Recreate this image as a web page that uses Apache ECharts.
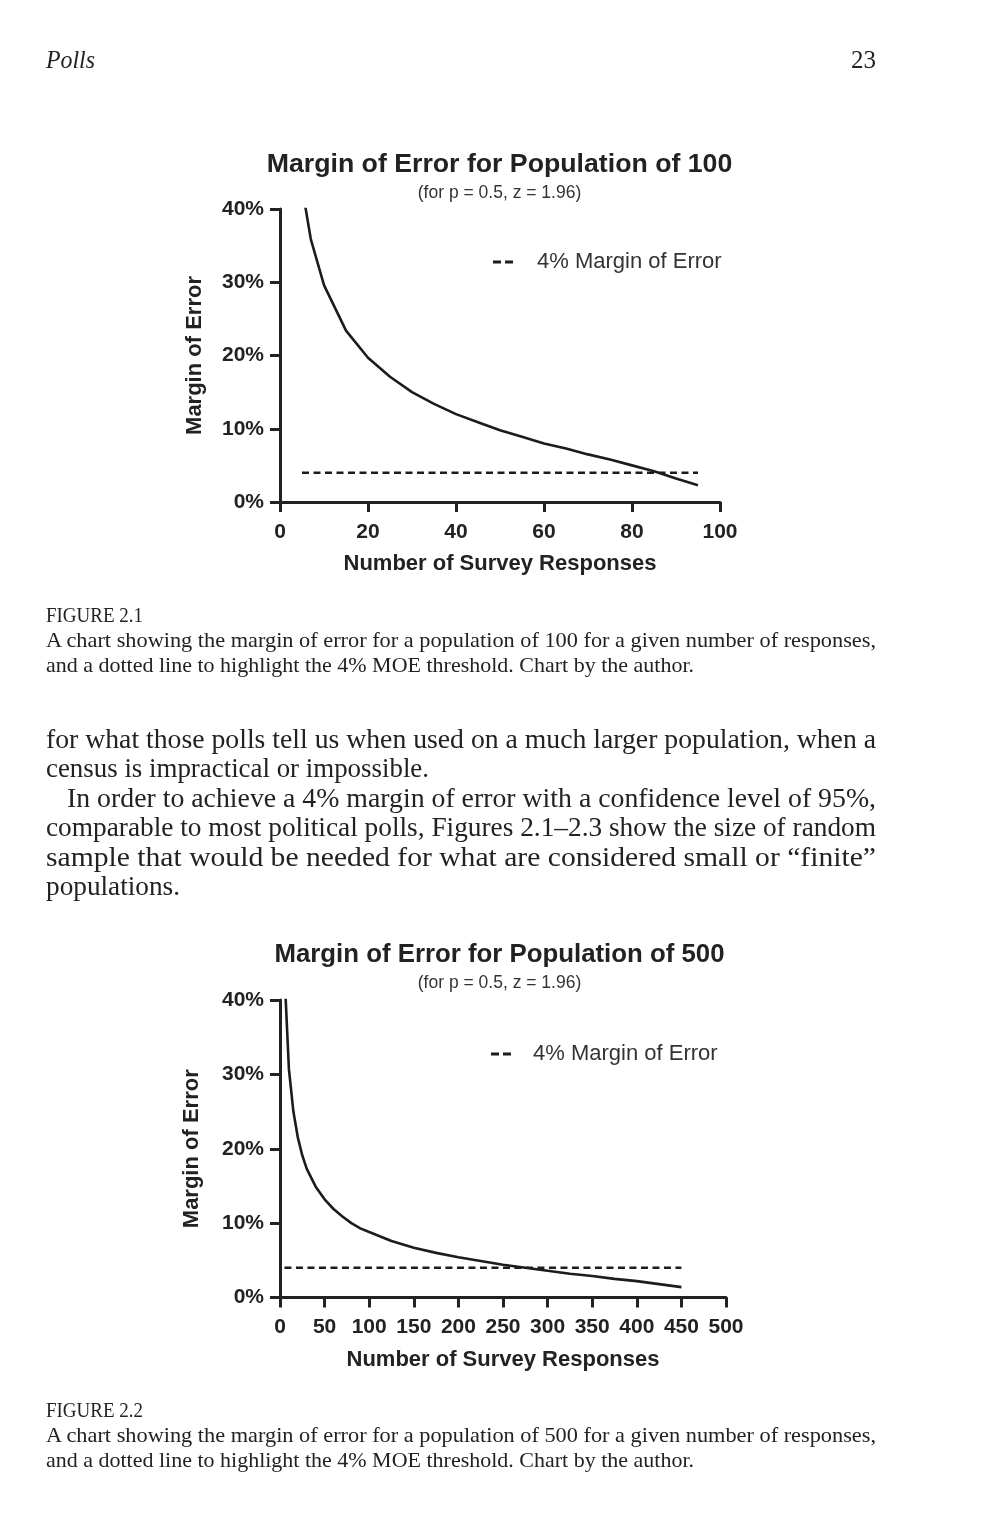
<!DOCTYPE html>
<html>
<head>
<meta charset="utf-8">
<script src="https://cdn.jsdelivr.net/npm/echarts@6/dist/echarts.min.js"></script>
<style>
  html, body { margin:0; padding:0; background:#fff; }
  #page { position:relative; width:999px; height:1523px; overflow:hidden; }
  #chart { position:absolute; left:0; top:0; width:999px; height:1523px; }
  .t { position:absolute; font-family:'Liberation Serif','Times New Roman',serif; color:#222; white-space:nowrap; }
  .t span { display:inline-block; transform-origin:0 50%; }
  .body { font-size:27px; line-height:30px; height:30px; }
  .cap { font-size:21px; line-height:24px; height:24px; }
</style>
</head>
<body>
<div id="page">
  <div id="chart"></div>

  <div class="t fit" data-w="49" style="left:46px;top:45px;font-size:26px;line-height:30px;font-style:italic;"><span>Polls</span></div>
  <div class="t fit" data-w="25" style="left:851px;top:45px;font-size:26px;line-height:30px;"><span>23</span></div>

  <div class="t cap fit" data-w="97" style="left:46px;top:603px;"><span>FIGURE 2.1</span></div>
  <div class="t cap fit" data-w="830" style="left:46px;top:628px;"><span>A chart showing the margin of error for a population of 100 for a given number of responses,</span></div>
  <div class="t cap fit" data-w="648" style="left:46px;top:653px;"><span>and a dotted line to highlight the 4% MOE threshold. Chart by the author.</span></div>

  <div class="t body fit" data-w="830" style="left:46px;top:724px;"><span>for what those polls tell us when used on a much larger population, when a</span></div>
  <div class="t body fit" data-w="383" style="left:46px;top:753px;"><span>census is impractical or impossible.</span></div>
  <div class="t body fit" data-w="809" style="left:67px;top:783px;"><span>In order to achieve a 4% margin of error with a confidence level of 95%,</span></div>
  <div class="t body fit" data-w="830" style="left:46px;top:812px;"><span>comparable to most political polls, Figures 2.1–2.3 show the size of random</span></div>
  <div class="t body fit" data-w="830" style="left:46px;top:842px;"><span>sample that would be needed for what are considered small or “finite”</span></div>
  <div class="t body fit" data-w="134" style="left:46px;top:871px;"><span>populations.</span></div>

  <div class="t cap fit" data-w="97" style="left:46px;top:1398px;"><span>FIGURE 2.2</span></div>
  <div class="t cap fit" data-w="830" style="left:46px;top:1423px;"><span>A chart showing the margin of error for a population of 500 for a given number of responses,</span></div>
  <div class="t cap fit" data-w="648" style="left:46px;top:1448px;"><span>and a dotted line to highlight the 4% MOE threshold. Chart by the author.</span></div>
</div>

<script>
// ---- Data ----
const pop100N   = [5, 7, 10, 15, 20, 25, 30, 35, 40, 45, 50, 55, 60, 65, 70, 75, 80, 85, 90, 95];
const pop100Moe = [43, 35.9, 29.6, 23.4, 19.7, 17.1, 15.0, 13.4, 12.0, 10.9, 9.8, 8.9, 8.0, 7.3, 6.5, 5.8, 5.0, 4.2, 3.2, 2.3];
const pop500N   = [5, 10, 15, 20, 25, 30, 40, 50, 60, 70, 80, 90, 100, 125, 150, 175, 200, 225, 250, 275, 300, 325, 350, 375, 400, 425, 450];
const pop500Moe = [43.7, 30.7, 25.0, 21.5, 19.1, 17.3, 14.9, 13.2, 11.9, 10.9, 10.0, 9.3, 8.8, 7.6, 6.7, 6.0, 5.4, 4.9, 4.4, 4.0, 3.6, 3.2, 2.9, 2.5, 2.2, 1.8, 1.4];
const threshold100N = [5, 95];
const threshold500N = [5, 450];
const thresholdMoe  = [4, 4];
const yTicks = [0, 10, 20, 30, 40];
const titles = ['Margin of Error for Population of 100', 'Margin of Error for Population of 500'];
const subtitle = '(for p = 0.5, z = 1.96)';
const legendName = '4% Margin of Error';
const xName = 'Number of Survey Responses';
const yName = 'Margin of Error';

// fit each text line of the page to the width it has in the reference
document.querySelectorAll('.fit').forEach(el => {
  const s = el.firstElementChild;
  const w = s.getBoundingClientRect().width;
  const target = +el.dataset.w;
  if (w > 0) s.style.transform = 'scaleX(' + (target / w) + ')';
});

const zip = (xs, ys) => xs.map((x, i) => [x, ys[i]]);

const INK = '#222';
const SANS = "'Liberation Sans', Arial, Helvetica, sans-serif";

function xAxis(gridIndex, max, interval, labelMargin) {
  return {
    type: 'value', gridIndex, min: 0, max, interval,
    name: xName, nameLocation: 'middle', nameGap: 51,
    nameTextStyle: { color: INK, fontSize: 22, fontWeight: 'bold', fontFamily: SANS },
    axisLine: { show: true, onZero: false, lineStyle: { color: INK, width: 3 } },
    axisTick: { show: true, length: 10, lineStyle: { color: INK, width: 3 } },
    axisLabel: { color: INK, fontSize: 21, fontWeight: 'bold', fontFamily: SANS, margin: labelMargin },
    splitLine: { show: false }
  };
}
function yAxis(gridIndex, nameGap) {
  return {
    type: 'value', gridIndex, min: yTicks[0], max: yTicks[yTicks.length - 1], interval: 10,
    name: yName, nameLocation: 'middle', nameGap,
    nameTextStyle: { color: INK, fontSize: 22, fontWeight: 'bold', fontFamily: SANS },
    axisLine: { show: true, onZero: false, lineStyle: { color: INK, width: 3 } },
    axisTick: { show: true, length: 10, lineStyle: { color: INK, width: 3 } },
    axisLabel: { color: INK, fontSize: 21, fontWeight: 'bold', fontFamily: SANS, margin: 16, formatter: '{value}%' },
    splitLine: { show: false }
  };
}
function curve(idx, data) {
  return {
    type: 'line', name: 'MOE', xAxisIndex: idx, yAxisIndex: idx, data,
    symbol: 'none', smooth: false, clip: true, silent: true,
    lineStyle: { color: '#1c1c1c', width: 2.6 }
  };
}
function dashed(idx, data) {
  return {
    type: 'line', name: legendName, xAxisIndex: idx, yAxisIndex: idx, data,
    symbol: 'none', silent: true,
    lineStyle: { color: '#1c1c1c', width: 2.6, type: [7, 4.5] },
    itemStyle: { color: '#1c1c1c' }
  };
}
function legend(left, top, pad) {
  return {
    left, top, padding: 0, selectedMode: false,
    data: [{ name: legendName, icon: 'path://M0,0H8V3H0Z M12,0H20V3H12Z' }],
    itemWidth: 20, itemHeight: 3,
    itemStyle: { color: '#1c1c1c', borderWidth: 0 },
    textStyle: { color: '#333', fontSize: 22, fontFamily: SANS, padding: [0, 0, 0, pad] }
  };
}

const chart = echarts.init(document.getElementById('chart'), null, { renderer: 'canvas' });
chart.setOption({
  backgroundColor: 'transparent',
  animation: false,
  title: [
    { text: titles[0], subtext: subtitle, left: 'center', top: 146, itemGap: 6,
      textStyle: { color: INK, fontSize: 26.7, fontWeight: 'bold', fontFamily: SANS },
      subtextStyle: { color: '#333', fontSize: 17.5, fontFamily: SANS } },
    { text: titles[1], subtext: subtitle, left: 'center', top: 937, itemGap: 6,
      textStyle: { color: INK, fontSize: 25.8, fontWeight: 'bold', fontFamily: SANS },
      subtextStyle: { color: '#333', fontSize: 17.5, fontFamily: SANS } }
  ],
  legend: [ legend(493, 251, 19), legend(491, 1043, 17) ],
  grid: [
    { left: 280, right: 279, top: 209, bottom: 1021, containLabel: false },
    { left: 280, right: 273, top: 1000, bottom: 225.5, containLabel: false }
  ],
  xAxis: [ xAxis(0, 100, 20, 20), xAxis(1, 500, 50, 19) ],
  yAxis: [ yAxis(0, 74), yAxis(1, 77) ],
  series: [
    curve(0, zip(pop100N, pop100Moe)),
    dashed(0, zip(threshold100N, thresholdMoe)),
    curve(1, zip(pop500N, pop500Moe)),
    dashed(1, zip(threshold500N, thresholdMoe))
  ]
});
</script>
</body>
</html>
